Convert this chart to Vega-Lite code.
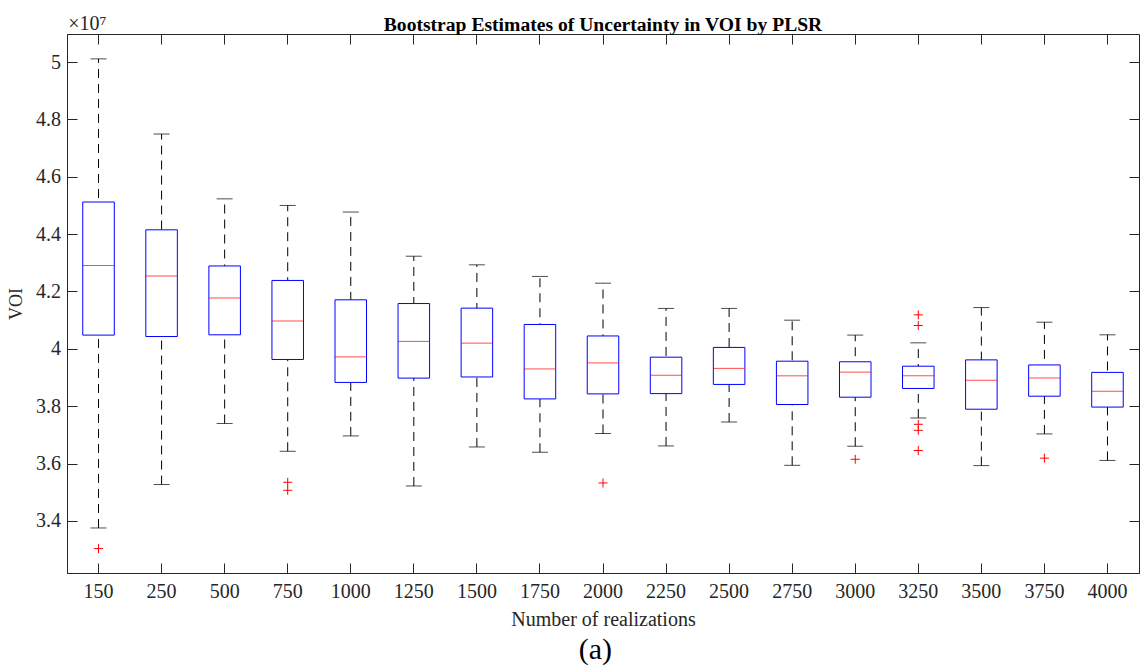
{
  "$schema": "https://vega.github.io/schema/vega-lite/v6.json",
  "background": "white",
  "padding": {"left": 6, "right": 1, "top": 13, "bottom": 2},
  "title": {"text": "(a)", "orient": "bottom", "font": "Liberation Serif", "fontSize": 30, "fontWeight": "normal", "color": "#000000", "offset": 5, "anchor": "middle", "dx": 22},
  "datasets": {
    "stats": [
      {"n": "150", "min": 33756000, "q1": 40480000, "med": 42910000, "q3": 45120000, "max": 50110000},
      {"n": "250", "min": 35270000, "q1": 40430000, "med": 42540000, "q3": 44150000, "max": 47490000},
      {"n": "500", "min": 37397000, "q1": 40490000, "med": 41770000, "q3": 42890000, "max": 45230000},
      {"n": "750", "min": 36430000, "q1": 39630000, "med": 40970000, "q3": 42385000, "max": 45000000},
      {"n": "1000", "min": 36965000, "q1": 38830000, "med": 39720000, "q3": 41710000, "max": 44770000},
      {"n": "1250", "min": 35220000, "q1": 38980000, "med": 40260000, "q3": 41580000, "max": 43230000},
      {"n": "1500", "min": 36580000, "q1": 39020000, "med": 40200000, "q3": 41420000, "max": 42930000},
      {"n": "1750", "min": 36396000, "q1": 38255000, "med": 39300000, "q3": 40850000, "max": 42525000},
      {"n": "2000", "min": 37050000, "q1": 38430000, "med": 39510000, "q3": 40450000, "max": 42290000},
      {"n": "2250", "min": 36616000, "q1": 38440000, "med": 39080000, "q3": 39710000, "max": 41410000},
      {"n": "2500", "min": 37450000, "q1": 38760000, "med": 39320000, "q3": 40050000, "max": 41410000},
      {"n": "2750", "min": 35940000, "q1": 38060000, "med": 39060000, "q3": 39570000, "max": 41000000},
      {"n": "3000", "min": 36606000, "q1": 38315000, "med": 39190000, "q3": 39550000, "max": 40480000},
      {"n": "3250", "min": 37590000, "q1": 38620000, "med": 39060000, "q3": 39396000, "max": 40210000},
      {"n": "3500", "min": 35930000, "q1": 37896000, "med": 38910000, "q3": 39616000, "max": 41440000},
      {"n": "3750", "min": 37035000, "q1": 38350000, "med": 38980000, "q3": 39440000, "max": 40930000},
      {"n": "4000", "min": 36110000, "q1": 37970000, "med": 38520000, "q3": 39180000, "max": 40490000}
    ],
    "outliers": [
      {"n": "150", "v": 33037000},
      {"n": "750", "v": 35350000},
      {"n": "750", "v": 35070000},
      {"n": "2000", "v": 35325000},
      {"n": "3000", "v": 36150000},
      {"n": "3250", "v": 41185000},
      {"n": "3250", "v": 40815000},
      {"n": "3250", "v": 37370000},
      {"n": "3250", "v": 37160000},
      {"n": "3250", "v": 36455000},
      {"n": "3750", "v": 36190000}
    ],
    "exponent": [
      {"n": "150", "v": 51106000, "label": "×10⁷"}
    ]
  },
  "config": {
    "view": {"stroke": "#262626", "strokeWidth": 1},
    "axis": {"grid": false}
  },
  "vconcat": [
    {
      "width": 1072,
      "height": 539,
      "title": {"text": "Bootstrap Estimates of Uncertainty in VOI by PLSR", "font": "Liberation Serif", "fontSize": 19.6, "fontWeight": "bold", "color": "#000000", "offset": -21.6, "anchor": "middle", "frame": "group"},
      "resolve": {"axis": {"x": "independent", "y": "independent"}},
      "layer": [
        {
          "data": {"name": "stats"},
          "mark": {"type": "rule", "color": "#000000", "strokeWidth": 1, "strokeDash": [9, 6]},
          "encoding": {
            "x": {"field": "n", "type": "ordinal",
              "scale": {"domain": ["150","250","500","750","1000","1250","1500","1750","2000","2250","2500","2750","3000","3250","3500","3750","4000"], "paddingInner": 0, "paddingOuter": 0},
              "axis": {"orient": "bottom", "title": "Number of realizations", "labelAngle": 0, "labelFont": "Liberation Serif", "labelFontSize": 20, "labelColor": "#262626", "labelPadding": 18, "tickSize": -10, "tickColor": "#262626", "domainColor": "#262626", "titleFont": "Liberation Serif", "titleFontSize": 20, "titleFontWeight": "normal", "titleColor": "#262626", "titlePadding": 8}},
            "y": {"field": "min", "type": "quantitative",
              "scale": {"domain": [32186000, 50977000], "nice": false, "zero": false},
              "axis": {"orient": "left", "title": "VOI", "values": [34000000, 36000000, 38000000, 40000000, 42000000, 44000000, 46000000, 48000000, 50000000], "labelExpr": "format(datum.value / 10000000, '.2~f')", "labelFont": "Liberation Serif", "labelFontSize": 20, "labelColor": "#262626", "labelPadding": 16.6, "tickSize": -10, "tickColor": "#262626", "domainColor": "#262626", "titleFont": "Liberation Serif", "titleFontSize": 18, "titleFontWeight": "normal", "titleColor": "#262626", "titlePadding": 10}},
            "y2": {"field": "max"}
          }
        },
        {
          "data": {"name": "stats"},
          "mark": {"type": "tick", "color": "#000000", "thickness": 1, "size": 16},
          "encoding": {
            "x": {"field": "n", "type": "ordinal",
              "axis": {"orient": "top", "labels": false, "title": null, "domain": false, "tickSize": -10, "tickColor": "#262626"}},
            "y": {"field": "max", "type": "quantitative",
              "axis": {"orient": "right", "labels": false, "title": null, "domain": false, "tickSize": -10, "tickColor": "#262626", "values": [34000000, 36000000, 38000000, 40000000, 42000000, 44000000, 46000000, 48000000, 50000000]}}
          }
        },
        {
          "data": {"name": "stats"},
          "mark": {"type": "tick", "color": "#000000", "thickness": 1, "size": 16},
          "encoding": {
            "x": {"field": "n", "type": "ordinal", "axis": null},
            "y": {"field": "min", "type": "quantitative", "axis": null}
          }
        },
        {
          "data": {"name": "stats"},
          "mark": {"type": "bar", "fill": "#ffffff", "stroke": "#0000ff", "strokeWidth": 1, "width": {"band": 0.5}},
          "encoding": {
            "x": {"field": "n", "type": "ordinal", "axis": null},
            "y": {"field": "q1", "type": "quantitative", "axis": null},
            "y2": {"field": "q3"}
          }
        },
        {
          "data": {"name": "stats"},
          "mark": {"type": "tick", "color": "#ff0000", "thickness": 1, "size": 31.5},
          "encoding": {
            "x": {"field": "n", "type": "ordinal", "axis": null},
            "y": {"field": "med", "type": "quantitative", "axis": null}
          }
        },
        {
          "data": {"name": "outliers"},
          "mark": {"type": "point", "shape": "M-1,0L1,0M0,-1L0,1", "filled": false, "stroke": "#ff0000", "strokeWidth": 1, "size": 81, "opacity": 1},
          "encoding": {
            "x": {"field": "n", "type": "ordinal", "axis": null},
            "y": {"field": "v", "type": "quantitative", "axis": null}
          }
        },
        {
          "data": {"name": "exponent"},
          "mark": {"type": "text", "align": "left", "baseline": "alphabetic", "dx": -30.4, "font": "Liberation Serif", "fontSize": 20, "color": "#262626", "clip": false},
          "encoding": {
            "x": {"field": "n", "type": "ordinal", "axis": null},
            "y": {"field": "v", "type": "quantitative", "axis": null},
            "text": {"field": "label"}
          }
        }
      ]
    }
  ]
}
